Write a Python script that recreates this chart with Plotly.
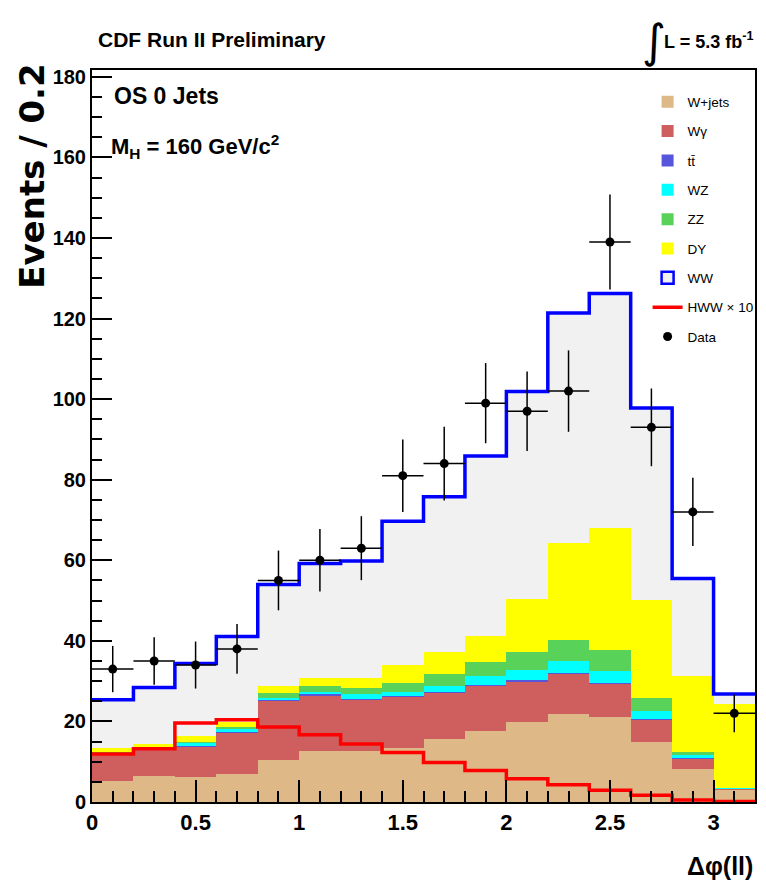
import numpy as np
import plotly.graph_objects as go

# Delta-phi(ll) binning: 16 bins of width 0.2
edges = np.round(np.arange(0.0, 3.2001, 0.2), 2)
centers = np.round((edges[:-1] + edges[1:]) / 2, 2)

# Background expectations per bin (stacked, bottom to top)
wjets  = [5.3, 6.4, 6.1, 6.9, 10.4, 12.7, 12.7, 13.3, 15.6, 17.7, 19.8, 21.8, 21.1, 14.8, 8.3, 3.1]
wgamma = [6.9, 7.0, 7.6, 10.4, 14.8, 13.8, 12.7, 12.9, 11.5, 11.2, 10.2, 10.0, 8.2, 5.6, 2.5, 0.2]
ttbar  = [0.1, 0.1, 0.1, 0.1, 0.2, 0.2, 0.2, 0.2, 0.2, 0.2, 0.3, 0.3, 0.3, 0.3, 0.2, 0.1]
wz     = [0.1, 0.1, 0.9, 0.9, 0.4, 0.6, 1.1, 1.0, 1.5, 2.2, 2.5, 2.9, 2.9, 2.0, 0.7, 0.1]
zz     = [0.1, 0.1, 0.3, 0.3, 1.3, 1.5, 1.5, 2.2, 3.0, 3.5, 4.5, 5.2, 5.2, 3.0, 0.6, 0.1]
dy     = [0.8, 0.8, 1.3, 1.2, 1.7, 2.0, 2.5, 4.4, 5.4, 6.3, 13.0, 24.0, 30.2, 24.4, 19.0, 20.8]
ww     = [12.1, 13.9, 18.1, 21.3, 25.2, 28.4, 29.1, 35.7, 38.6, 44.8, 51.6, 57.2, 58.3, 47.7, 24.2, 2.4]

# Higgs signal (mH = 160) scaled by 10, and observed data
hww_x10 = [11.9, 13.2, 19.6, 20.4, 18.6, 16.7, 14.4, 12.3, 9.8, 7.8, 5.8, 4.3, 2.9, 1.7, 0.5, 0.1]
data    = [33, 35, 34, 38, 55, 60, 63, 81, 84, 99, 97, 102, 139, 93, 72, 22]

stack = [
    ("W+jets", wjets,  "#DEB887"),
    ("Wγ",     wgamma, "#CF5F5F"),
    ("tt\u0304", ttbar, "#5656DC"),
    ("WZ",     wz,     "#00FFFF"),
    ("ZZ",     zz,     "#58D258"),
    ("DY",     dy,     "#FFFF00"),
]
ww_fill = "#F1F1F1"
ww_line = "#0000FF"

SANS = "Liberation Sans, Arial, Helvetica, sans-serif"
WIDE = "DejaVu Sans, Verdana, sans-serif"

fig = go.Figure()

rank = 1
for name, vals, col in stack:
    fig.add_trace(go.Bar(
        x=centers, y=vals, width=0.2, name=name,
        marker=dict(color=col, line=dict(width=0)),
        legendgroup=name, legendrank=rank, hoverinfo="skip",
    ))
    rank += 1

# WW fill on top of the stack
fig.add_trace(go.Bar(
    x=centers, y=ww, width=0.2, name="WW", showlegend=False,
    marker=dict(color=ww_fill, line=dict(width=0)), hoverinfo="skip",
))
# legend key for WW: grey box with blue frame
fig.add_trace(go.Bar(
    x=[None], y=[None], name="WW", legendgroup="WW", legendrank=rank,
    marker=dict(color=ww_fill, line=dict(color=ww_line, width=2.5)),
))
rank += 1

total = np.sum([wjets, wgamma, ttbar, wz, zz, dy, ww], axis=0)

# Signal x10 as a step outline
fig.add_trace(go.Scatter(
    x=edges, y=list(hww_x10) + [hww_x10[-1]], mode="lines", line_shape="hv",
    line=dict(color="#FF0000", width=3.5), name="HWW × 10",
    legendgroup="HWW", legendrank=rank, hoverinfo="skip",
))
rank += 1

# Total expectation outline
fig.add_trace(go.Scatter(
    x=edges, y=list(total) + [total[-1]], mode="lines", line_shape="hv",
    line=dict(color=ww_line, width=3.5), showlegend=False, hoverinfo="skip",
))

# Observed data with Poisson errors
fig.add_trace(go.Scatter(
    x=centers, y=data, mode="markers", name="Data",
    marker=dict(color="black", size=9),
    error_y=dict(type="data", array=np.sqrt(data), color="black", thickness=1.5, width=0),
    error_x=dict(type="data", array=[0.1] * len(data), color="black", thickness=1.5, width=0),
    legendgroup="Data", legendrank=rank,
))

axis_common = dict(
    showline=True, linecolor="black", linewidth=2, mirror=True,
    ticks="inside", tickcolor="black", tickwidth=1.5,
    showgrid=False, zeroline=False,
)

fig.update_layout(
    width=766, height=894,
    margin=dict(l=92, r=11, t=70, b=92, autoexpand=False),
    paper_bgcolor="white", plot_bgcolor="white",
    barmode="stack", bargap=0,
    showlegend=True,
    legend=dict(
        x=0.838, y=0.9775, xanchor="left", yanchor="top",
        bgcolor="rgba(0,0,0,0)", borderwidth=0,
        font=dict(family=SANS, size=13.5, color="black"),
        traceorder="grouped", tracegroupgap=8.8, itemwidth=30,
    ),
    xaxis=dict(range=[0, 3.2], tickvals=[0, 0.5, 1, 1.5, 2, 2.5, 3],
               ticktext=["0", "0.5", "1", "1.5", "2", "2.5", "3"], ticklen=22,
               tickfont=dict(family=SANS, size=22, color="black", weight="bold"),
               minor=dict(dtick=0.1, ticklen=11, ticks="inside", tickcolor="black", tickwidth=1.5),
               **axis_common),
    yaxis=dict(range=[0, 181.7], tickvals=list(range(0, 181, 20)), ticklen=20,
               tickfont=dict(family=SANS, size=20, color="black", weight="bold"),
               minor=dict(dtick=5, ticklen=10, ticks="inside", tickcolor="black", tickwidth=1.5),
               **axis_common),
)

ann = [
    dict(text="CDF Run II Preliminary", x=0.006, y=1.041, xanchor="left", yanchor="middle",
         font=dict(family=SANS, size=21, color="black", weight="bold")),
    dict(text="∫", x=0.847, y=1.04, xanchor="center", yanchor="middle",
         font=dict(family=WIDE, size=46, color="black")),
    dict(text="L = 5.3 fb<sup>-1</sup>", x=1.0, y=1.04, xanchor="right", yanchor="middle",
         font=dict(family=SANS, size=18, color="black", weight="bold")),
    dict(text="OS 0 Jets", x=0.03, y=0.9645, xanchor="left", yanchor="middle",
         font=dict(family=SANS, size=23, color="black", weight="bold")),
    dict(text="M<sub>H</sub> = 160 GeV/c<sup>2</sup>", x=0.025, y=0.896, xanchor="left", yanchor="middle",
         font=dict(family=SANS, size=22, color="black", weight="bold")),
    dict(text="Events / 0.2", x=-0.09, y=1.011, xanchor="center", yanchor="top", textangle=-90,
         font=dict(family=WIDE, size=34, color="black", weight="bold")),
    dict(text="Δφ(ll)", x=1.0, y=-0.087, xanchor="right", yanchor="middle",
         font=dict(family=SANS, size=25, color="black", weight="bold")),
]
for a in ann:
    a.update(xref="paper", yref="paper", showarrow=False)
fig.update_layout(annotations=ann)

fig.write_html("out.html")
